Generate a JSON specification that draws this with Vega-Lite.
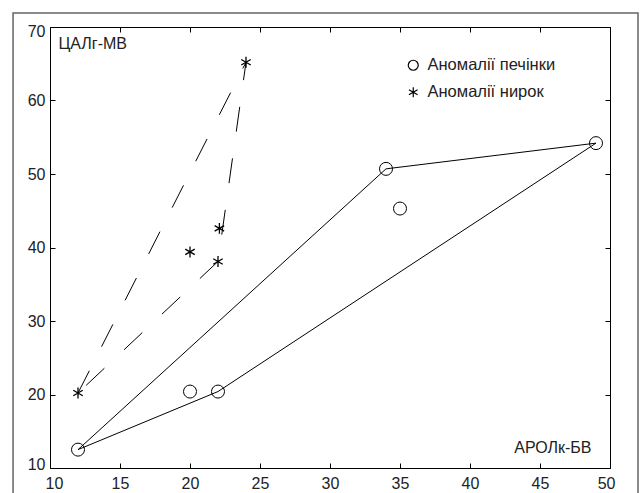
{
  "$schema": "https://vega.github.io/schema/vega-lite/v6.json",
  "width": 560,
  "height": 441,
  "autosize": {"type": "none"},
  "padding": {"left": 50, "top": 27, "right": 32, "bottom": 25},
  "background": "white",
  "config": {
    "font": "Liberation Sans",
    "view": {"stroke": "black", "strokeWidth": 1},
    "axis": {
      "domain": false,
      "grid": false,
      "ticks": true,
      "tickColor": "black",
      "tickSize": -5,
      "labelColor": "#222",
      "labelFontSize": 16,
      "labelFont": "Liberation Sans",
      "titleFont": "Liberation Sans",
      "titleFontSize": 16,
      "titleFontWeight": "normal",
      "titleColor": "#222"
    },
    "legend": {
      "labelFontSize": 16.5,
      "labelFont": "Liberation Sans",
      "labelColor": "#222"
    }
  },
  "datasets": {
    "points": [
      {"group": "Аномалії печінки", "x": 12, "y": 12.5},
      {"group": "Аномалії печінки", "x": 20, "y": 20.4},
      {"group": "Аномалії печінки", "x": 22, "y": 20.4},
      {"group": "Аномалії печінки", "x": 34, "y": 50.7},
      {"group": "Аномалії печінки", "x": 35, "y": 45.3},
      {"group": "Аномалії печінки", "x": 49, "y": 54.2},
      {"group": "Аномалії нирок", "x": 12, "y": 20.2},
      {"group": "Аномалії нирок", "x": 20, "y": 39.4},
      {"group": "Аномалії нирок", "x": 22, "y": 38.1},
      {"group": "Аномалії нирок", "x": 22.1, "y": 42.6},
      {"group": "Аномалії нирок", "x": 24, "y": 65.2}
    ],
    "liverHull": [
      {"o": 1, "x": 12, "y": 12.5},
      {"o": 2, "x": 22, "y": 20.4},
      {"o": 3, "x": 49, "y": 54.2},
      {"o": 4, "x": 34, "y": 50.7},
      {"o": 5, "x": 12, "y": 12.5}
    ],
    "kidneyHull": [
      {"o": 1, "x": 12, "y": 20.2},
      {"o": 2, "x": 24, "y": 65.2},
      {"o": 3, "x": 22, "y": 38.1},
      {"o": 4, "x": 12, "y": 20.2}
    ]
  },
  "layer": [
    {
      "data": {"values": [{}]},
      "mark": {"type": "rect", "fill": null, "fillOpacity": 0, "stroke": "#666", "strokeWidth": 1.5, "clip": false},
      "encoding": {
        "x": {"datum": 7.36, "type": "quantitative", "scale": {"domain": [10, 50], "nice": false, "zero": false}, "axis": null},
        "x2": {"datum": 52},
        "y": {"datum": 71.9, "type": "quantitative", "scale": {"domain": [10, 70], "nice": false, "zero": false}, "axis": null},
        "y2": {"datum": 5}
      }
    },
    {
      "data": {"name": "liverHull"},
      "mark": {"type": "line", "color": "black", "strokeWidth": 1},
      "encoding": {
        "x": {"field": "x", "type": "quantitative", "axis": {"orient": "bottom", "values": [10, 15, 20, 25, 30, 35, 40, 45, 50], "labelPadding": 12, "labelFlush": true, "labelFlushOffset": 5, "title": "АРОЛк-БВ", "titleX": 541, "titleY": -21, "titleAlign": "right", "titleBaseline": "middle"}},
        "y": {"field": "y", "type": "quantitative", "axis": {"orient": "left", "values": [10, 20, 30, 40, 50, 60, 70], "labelPadding": 10, "labelFlush": true, "labelFlushOffset": 4, "title": "ЦАЛг-МВ", "titleAngle": 0, "titleX": 8, "titleY": 16, "titleAlign": "left", "titleBaseline": "middle"}},
        "order": {"field": "o"}
      }
    },
    {
      "data": {"name": "kidneyHull"},
      "mark": {"type": "line", "color": "black", "strokeWidth": 1, "strokeDash": [25, 27]},
      "encoding": {
        "x": {"field": "x", "type": "quantitative", "axis": {"orient": "top", "values": [10, 15, 20, 25, 30, 35, 40, 45, 50], "labels": false, "title": null}},
        "y": {"field": "y", "type": "quantitative", "axis": {"orient": "right", "values": [10, 20, 30, 40, 50, 60, 70], "labels": false, "title": null}},
        "order": {"field": "o"}
      }
    },
    {
      "data": {"name": "points"},
      "transform": [{"filter": "datum.group === 'Аномалії печінки'"}],
      "mark": {"type": "point", "filled": false, "color": "black", "strokeWidth": 1, "size": 169, "opacity": 1},
      "encoding": {
        "x": {"field": "x", "type": "quantitative", "axis": null},
        "y": {"field": "y", "type": "quantitative", "axis": null},
        "shape": {
          "field": "group",
          "type": "nominal",
          "scale": {"domain": ["Аномалії печінки", "Аномалії нирок"], "range": ["circle", "M0,-1L0,1M-0.866,-0.5L0.866,0.5M-0.866,0.5L0.866,-0.5"]},
          "legend": {"title": null, "orient": "none", "legendX": 355, "legendY": 30, "symbolSize": 100, "symbolStrokeColor": "black", "symbolStrokeWidth": 1.2, "labelOffset": 6, "rowPadding": 10}
        }
      }
    },
    {
      "data": {"name": "points"},
      "transform": [{"filter": "datum.group === 'Аномалії нирок'"}],
      "mark": {"type": "point", "filled": false, "color": "black", "strokeWidth": 1.3, "size": 120, "opacity": 1},
      "encoding": {
        "x": {"field": "x", "type": "quantitative", "axis": null},
        "y": {"field": "y", "type": "quantitative", "axis": null},
        "shape": {"field": "group", "type": "nominal"}
      }
    }
  ],
  "resolve": {"axis": {"x": "independent", "y": "independent"}}
}
